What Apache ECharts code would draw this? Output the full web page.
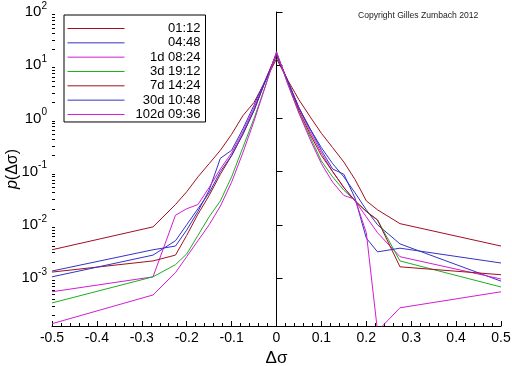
<!DOCTYPE html>
<html>
<head>
<meta charset="utf-8">
<script src="https://cdn.jsdelivr.net/npm/echarts@6/dist/echarts.min.js"></script>
<style>html,body{margin:0;padding:0;background:#fff}#c{width:512px;height:366px}</style>
</head>
<body>
<div id="c"></div>
<script>
const xs = [-0.5, -0.275, -0.225, -0.2, -0.175, -0.15, -0.125, -0.1, -0.075, -0.05, -0.025, 0, 0.025, 0.05, 0.075, 0.1, 0.125, 0.15, 0.175, 0.2, 0.225, 0.275, 0.5];
const seriesNames = ['01:12', '04:48', '1d 08:24', '3d 19:12', '7d 14:24', '30d 10:48', '102d 09:36'];
const p_0112 = [3.39e-3, 9.12e-3, 2.40e-2, 4.17e-2, 7.94e-2, 0.141, 0.251, 0.501, 1.12, 2.0, 5.01, 13.2, 5.25, 2.24, 1.07, 0.525, 0.282, 0.151, 0.0708, 0.0282, 0.0191, 0.0105, 0.00398];
const p_0448 = [1.35e-3, 3.39e-3, 3.98e-3, 7.94e-3, 1.78e-2, 4.47e-2, 0.178, 0.251, 0.631, 1.78, 5.25, 15.8, 5.01, 1.58, 0.631, 0.282, 0.141, 0.0794, 0.0398, 0.0191, 0.01, 0.00437, 8.71e-4];
const p_1d0824 = [5.5e-4, 1.05e-3, 1.51e-2, 2.0e-2, 2.4e-2, 0.0501, 0.112, 0.224, 0.562, 1.58, 5.01, 16.6, 5.01, 1.58, 0.562, 0.224, 0.1, 0.0501, 0.0282, 0.0141, 0.00708, 0.00251, 9.55e-4];
const p_3d1912 = [3.39e-4, 1.05e-3, 1.78e-3, 2.82e-3, 6.31e-3, 1.41e-2, 2.82e-2, 7.94e-2, 0.282, 1.0, 3.98, 17.8, 4.47, 1.26, 0.447, 0.158, 0.0794, 0.0447, 0.0282, 0.0178, 0.0123, 0.00209, 6.76e-4];
const p_7d1424 = [1.29e-3, 2.09e-3, 2.69e-3, 6.31e-3, 1.58e-2, 3.55e-2, 0.0891, 0.2, 0.501, 1.41, 5.01, 16.6, 5.01, 1.41, 0.501, 0.2, 0.1, 0.0501, 0.0282, 0.0178, 0.0123, 1.62e-3, 1.15e-3];
const p_30d1048 = [1.05e-3, 2.69e-3, 5.01e-3, 0.01, 0.02, 0.0398, 0.1, 0.2, 0.501, 1.41, 5.01, 15.1, 5.01, 1.58, 0.631, 0.251, 0.112, 0.0891, 0.0316, 5.62e-3, 3.09e-3, 3.63e-3, 1.91e-3];
const p_102d0936 = [1.38e-4, 4.79e-4, 1.26e-3, 2.51e-3, 5.01e-3, 0.01, 0.0224, 0.0631, 0.224, 0.891, 3.98, 17.8, 4.47, 1.26, 0.398, 0.141, 0.0631, 0.0355, 0.0302, 7.08e-3, 1.0e-4, 2.75e-4, 5.5e-4];
const zeroLineY = [1e-3, 100];
const yMajorTicks = [1e-3, 1e-2, 1e-1, 1, 10, 100];
const yMinorMult = [2, 3, 4, 5, 6, 7, 8, 9];
const yMinorDecades = [1e-4, 1e-3, 1e-2, 1e-1, 1, 10];
const yMin = 1.25e-4, yMax = 100;

const colors = ['#a01020', '#3434c4', '#d41cd4', '#1cb01c', '#a01020', '#3434c4', '#d41cd4'];
const allSeries = [p_0112, p_0448, p_1d0824, p_3d1912, p_7d1424, p_30d1048, p_102d0936];
const FONT = '"Liberation Sans", Arial, Helvetica, sans-serif';

const yMinor = [];
yMinorDecades.forEach(d => yMinorMult.forEach(m => { const v = d * m; if (v > yMin && v < yMax) yMinor.push(v); }));

const chart = echarts.init(document.getElementById('c'), null, {renderer: 'canvas'});
const series = allSeries.map((arr, i) => ({
  name: seriesNames[i], type: 'line', symbol: 'none', showSymbol: false,
  data: xs.map((x, j) => [x, arr[j]]),
  lineStyle: {width: 1, color: colors[i]}, itemStyle: {color: colors[i]},
  color: colors[i], animation: false, clip: true
}));
series.push({
  name: 'zero', type: 'line', symbol: 'none', data: zeroLineY.map(v => [0, v]),
  lineStyle: {width: 1, color: '#000'}, itemStyle: {color: '#000'}, animation: false, z: 1
});

chart.setOption({
  animation: false,
  backgroundColor: '#fff',
  title: {
    text: 'Copyright Gilles Zumbach 2012', left: 358, top: 11, padding: 0,
    textStyle: {fontSize: 8.6, fontWeight: 'normal', color: '#222', fontFamily: FONT}
  },
  grid: {left: 52, right: 11, top: 12, bottom: 40, containLabel: false, outerBoundsMode: 'none'},
  legend: {
    data: seriesNames.map((n, i) => ({name: n, itemStyle: {opacity: 0}, lineStyle: {color: colors[i], width: 1}})),
    orient: 'vertical', left: 64, top: 15,
    itemWidth: 57, itemHeight: 14, itemGap: 1.33, padding: [7, 5, 1, 3],
    borderColor: '#000', borderWidth: 1, backgroundColor: '#fff', selectedMode: false,
    formatter: n => '{a|' + n + '}',
    textStyle: {rich: {a: {width: 71, align: 'right', fontSize: 13, lineHeight: 14, fontFamily: FONT, color: '#000'}}}
  },
  xAxis: {
    type: 'value', min: -0.5, max: 0.5, interval: 0.1,
    name: 'Δσ', nameLocation: 'middle', nameGap: 24, nameMoveOverlap: false,
    nameTextStyle: {fontSize: 17, fontFamily: FONT, color: '#000'},
    axisLine: {show: true, onZero: false, lineStyle: {color: '#000', width: 1}},
    axisTick: {show: true, inside: true, length: 5, lineStyle: {color: '#000'}},
    minorTick: {show: true, splitNumber: 5, length: 3, lineStyle: {color: '#000'}},
    axisLabel: {fontSize: 14, fontFamily: FONT, color: '#000', margin: 5},
    splitLine: {show: false}
  },
  yAxis: [{
    type: 'log', logBase: 10, min: yMin, max: yMax, position: 'left',
    name: '{i|p}(Δσ)', nameLocation: 'middle', nameGap: 31, nameMoveOverlap: false,
    nameTextStyle: {fontSize: 16, fontFamily: FONT, color: '#000', rich: {i: {fontStyle: 'italic', fontSize: 16, fontFamily: FONT}}},
    axisLine: {show: true, lineStyle: {color: '#000', width: 1}},
    axisTick: {show: true, inside: true, length: 6, customValues: yMajorTicks, lineStyle: {color: '#000'}},
    axisLabel: {
      customValues: yMajorTicks, margin: 5, color: '#000',
      formatter: v => {
        const e = Math.round(Math.log10(v));
        if (Math.abs(Math.log10(v) - e) > 1e-6) return '';
        return '{b|10}{s|' + e + '}';
      },
      rich: {
        b: {fontSize: 15, fontFamily: FONT, color: '#000'},
        s: {fontSize: 10, fontFamily: FONT, color: '#000', padding: [0, 0, 12, 0]}
      }
    },
    splitLine: {show: false}
  }, {
    type: 'log', logBase: 10, min: yMin, max: yMax, position: 'left', offset: 0,
    axisLine: {show: false}, axisLabel: {show: false}, splitLine: {show: false},
    axisTick: {show: true, inside: true, length: 3, customValues: yMinor, lineStyle: {color: '#000'}}
  }],
  series: series
});
</script>
</body>
</html>
